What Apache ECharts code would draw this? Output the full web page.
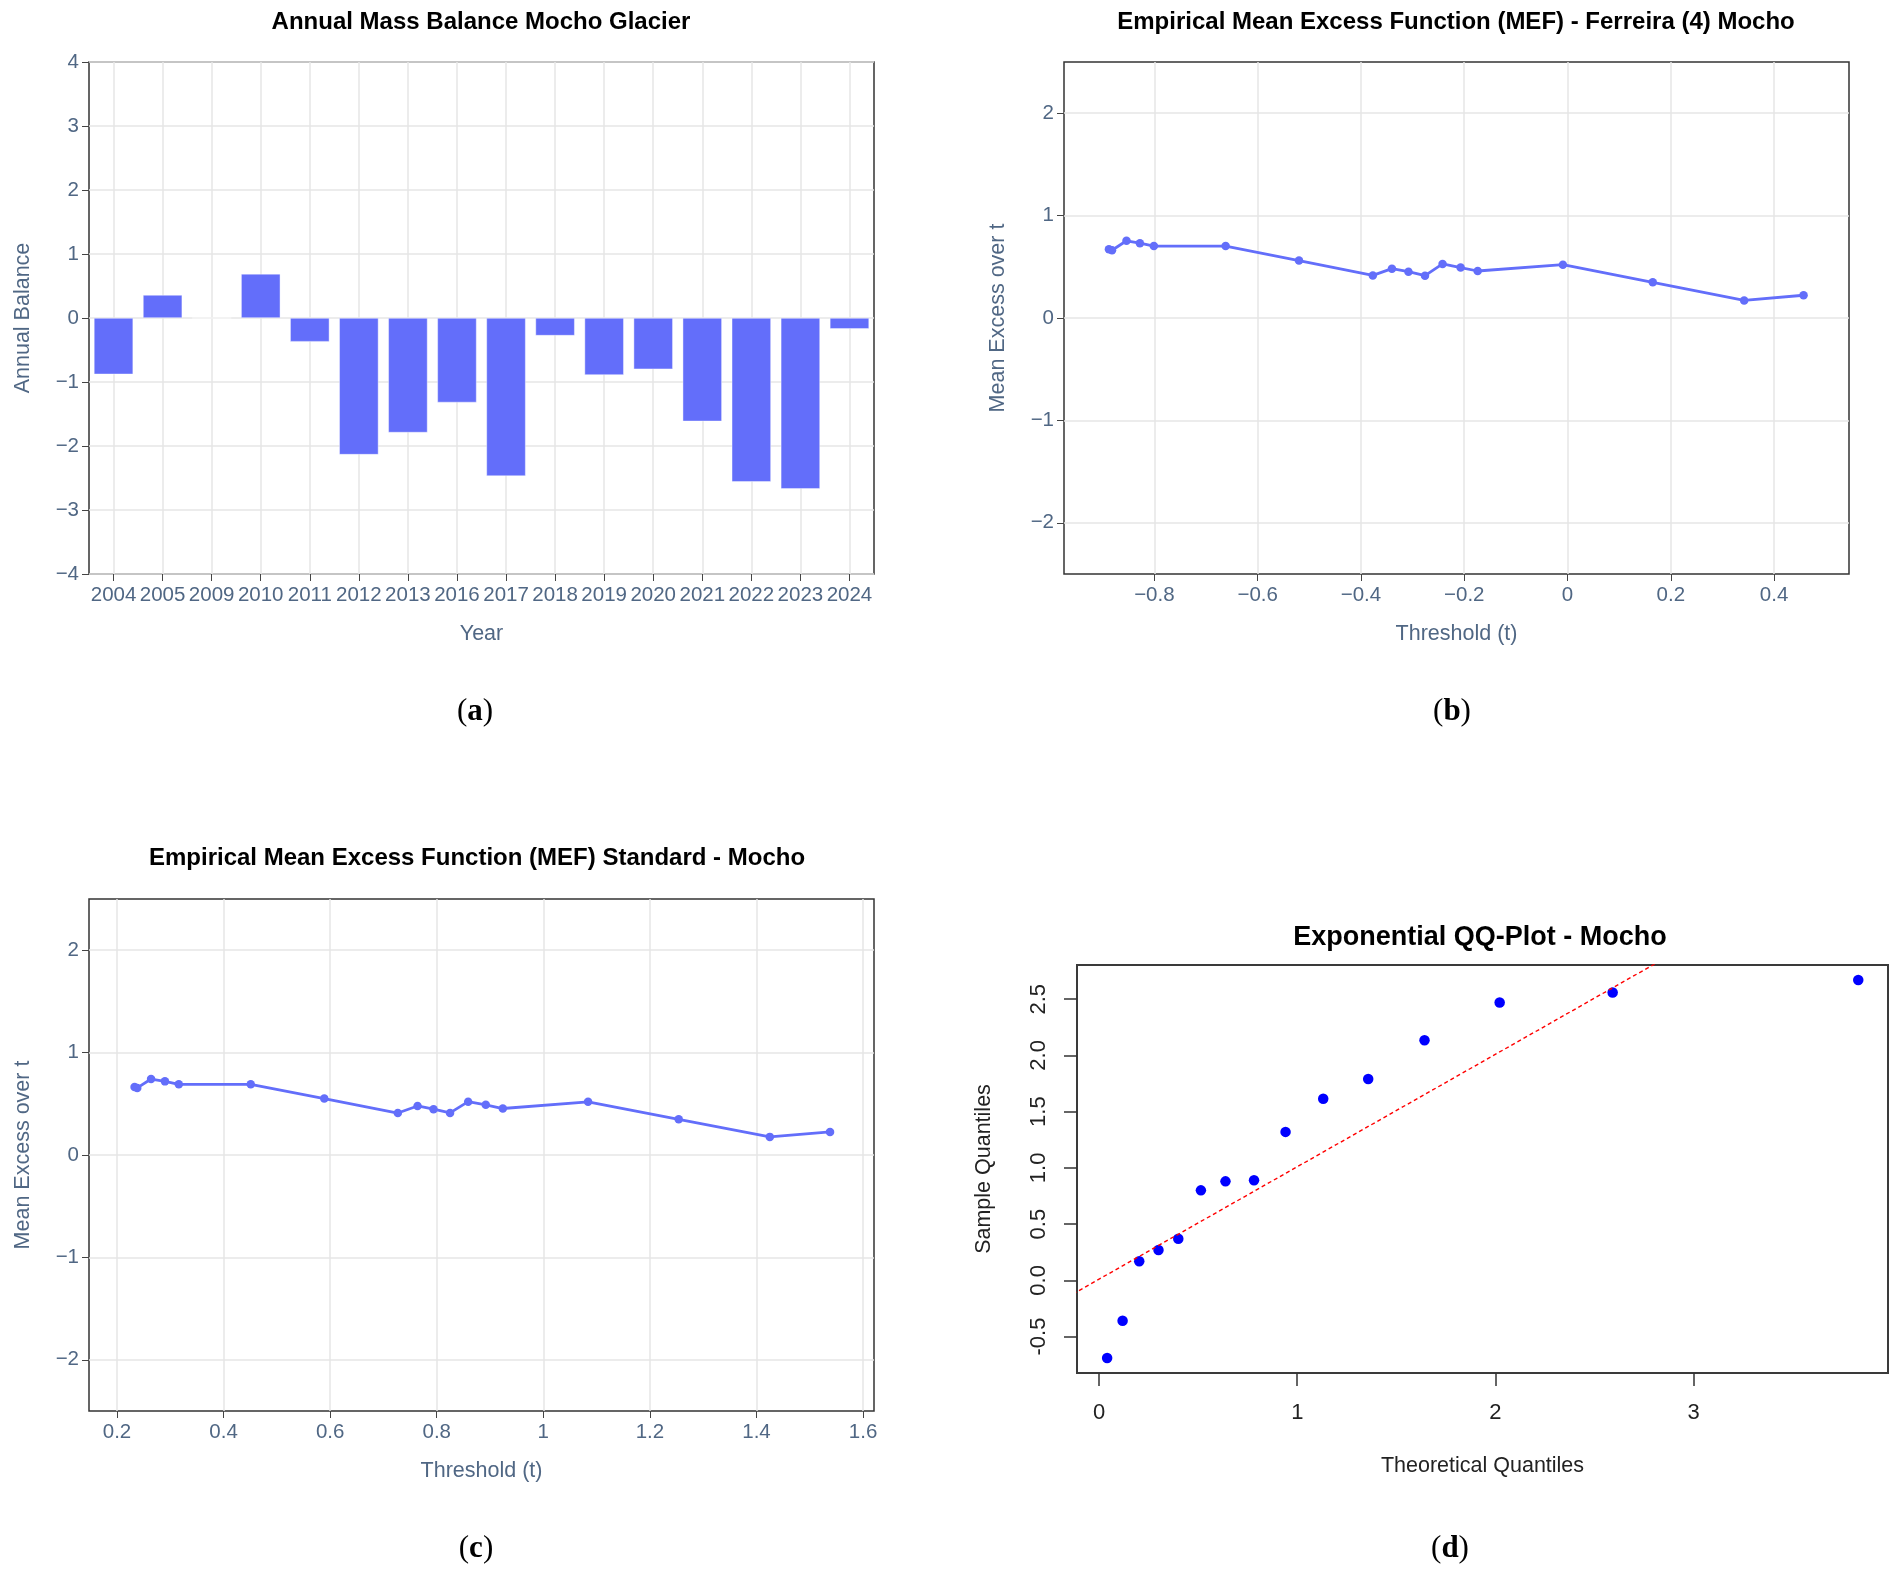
<!DOCTYPE html>
<html>
<head>
<meta charset="utf-8">
<title>Mocho glacier</title>
<script src="https://cdn.jsdelivr.net/npm/echarts@6/dist/echarts.min.js"></script>
<style>
  html, body { margin: 0; padding: 0; background: #fff; }
  #main { width: 1900px; height: 1578px; }
</style>
</head>
<body>
<div id="main"></div>
<script>
// (a) annual balance per year
const years = ['2004', '2005', '2009', '2010', '2011', '2012', '2013', '2016',
               '2017', '2018', '2019', '2020', '2021', '2022', '2023', '2024'];
const balance = [-0.88, 0.36, 0, 0.69, -0.37, -2.135, -1.79, -1.32,
                 -2.47, -0.275, -0.89, -0.80, -1.615, -2.56, -2.67, -0.17];

// (b) MEF Ferreira (4)
const ferreiraT = [-0.888, -0.882, -0.854, -0.828, -0.801, -0.662, -0.520, -0.377, -0.340,
                   -0.308, -0.276, -0.242, -0.207, -0.174, -0.009, 0.165, 0.342, 0.457];
const ferreiraMe = [0.672, 0.662, 0.754, 0.731, 0.702, 0.702, 0.561, 0.416, 0.482,
                    0.452, 0.413, 0.528, 0.492, 0.459, 0.521, 0.348, 0.172, 0.222];

// (c) MEF standard
const standardT = [0.233, 0.238, 0.264, 0.290, 0.316, 0.451, 0.589, 0.727, 0.764,
                   0.794, 0.825, 0.859, 0.892, 0.924, 1.084, 1.254, 1.425, 1.538];
const standardMe = [0.665, 0.655, 0.742, 0.719, 0.690, 0.690, 0.551, 0.410, 0.479,
                    0.447, 0.411, 0.521, 0.490, 0.454, 0.519, 0.348, 0.177, 0.225];

// (d) exponential QQ plot
const qqTheo = [0.041, 0.119, 0.203, 0.300, 0.400, 0.514, 0.638, 0.782,
                0.941, 1.131, 1.358, 1.642, 2.021, 2.591, 3.830];
const qqSample = [-0.69, -0.36, 0.17, 0.27, 0.37, 0.80, 0.88, 0.89,
                  1.32, 1.615, 1.79, 2.135, 2.47, 2.56, 2.67];
const qqLineX = [-0.5, 4.2];
const qqLineY = [-0.49, 4.21];

// tick labels
const balanceTicks = [-4, -3, -2, -1, 0, 1, 2, 3, 4];
const meTicks = [-2, -1, 0, 1, 2];
const ferreiraTicks = [-0.8, -0.6, -0.4, -0.2, 0, 0.2, 0.4];
const standardTicks = [0.2, 0.4, 0.6, 0.8, 1, 1.2, 1.4, 1.6];
const qqXTicks = [0, 1, 2, 3];
const qqYTicks = [-0.5, 0, 0.5, 1, 1.5, 2, 2.5];

const FONT = "'Liberation Sans', Arial, sans-serif";
const SLATE = '#506784';
const GRIDC = '#e6e6e6';
const BLUE = '#636efa';

const minus = v => String(+(+v).toFixed(3)).replace('-', '\u2212');
const zip = (a, b) => a.map((v, i) => [v, b[i]]);

function plotlyX(gi, min, max, split, ticks, name) {
    return {
        type: 'value', gridIndex: gi, min: min, max: max, splitNumber: split,
        axisLine: { show: false, onZero: false },
        axisTick: { show: true, customValues: ticks, length: 7, lineStyle: { color: '#444' } },
        axisLabel: { customValues: ticks, formatter: minus, color: SLATE, fontSize: 20.5, fontFamily: FONT, margin: 11 },
        splitLine: { show: true, lineStyle: { color: GRIDC, width: 1.5 } },
        name: name, nameLocation: 'middle', nameGap: 49,
        nameTextStyle: { color: SLATE, fontSize: 21.5, fontFamily: FONT }
    };
}
function plotlyY(gi, min, max, split, ticks, name) {
    return {
        type: 'value', gridIndex: gi, min: min, max: max, splitNumber: split,
        axisLine: { show: false, onZero: false },
        axisTick: { show: true, customValues: ticks, length: 7, lineStyle: { color: '#444' } },
        axisLabel: { customValues: ticks, formatter: minus, color: SLATE, fontSize: 20.5, fontFamily: FONT, margin: 10 },
        splitLine: { show: true, lineStyle: { color: GRIDC, width: 1.5 } },
        name: name, nameLocation: 'middle', nameGap: 55, nameRotate: 90,
        nameTextStyle: { color: SLATE, fontSize: 21.5, fontFamily: FONT }
    };
}
function lineSeries(xi, xs, ys) {
    return {
        type: 'line', xAxisIndex: xi, yAxisIndex: xi, data: zip(xs, ys),
        symbol: 'circle', symbolSize: 8.5, showSymbol: true,
        itemStyle: { color: BLUE }, lineStyle: { color: BLUE, width: 2.8 },
        animation: false
    };
}
function txt(x, y, text, font, fill) {
    return {
        type: 'text', x: x, y: y,
        style: { text: text, font: font, fill: fill || '#000',
                 align: 'center', verticalAlign: 'middle', textAlign: 'center', textVerticalAlign: 'middle' }
    };
}
function caption(x, y, letter) {
    return {
        type: 'text', x: x, y: y,
        style: {
            text: '{n|(}{b|' + letter + '}{n|)}',
            align: 'center', verticalAlign: 'middle', textAlign: 'center', textVerticalAlign: 'middle',
            rich: {
                n: { font: "31px 'Liberation Serif', serif", fill: '#000' },
                b: { font: "bold 31px 'Liberation Serif', serif", fill: '#000' }
            }
        }
    };
}

const chart = echarts.init(document.getElementById('main'), null, { renderer: 'canvas' });

const frame = { show: true, borderColor: '#333', borderWidth: 1.5, backgroundColor: 'transparent' };

const option = {
    backgroundColor: '#fff',
    animation: false,
    grid: [
        Object.assign({ left: 89, top: 62, width: 785, height: 512 }, frame),
        Object.assign({ left: 1064, top: 62, width: 785, height: 512 }, frame),
        Object.assign({ left: 89, top: 899, width: 785, height: 512 }, frame),
        { left: 1077, top: 965, width: 811, height: 408, show: true, borderColor: '#3a3a3a', borderWidth: 2, backgroundColor: 'transparent' }
    ],
    xAxis: [
        {
            type: 'category', gridIndex: 0, data: years,
            axisLine: { show: false, onZero: false },
            axisTick: { show: true, alignWithLabel: true, length: 7, lineStyle: { color: '#444' } },
            axisLabel: { interval: 0, color: SLATE, fontSize: 20.5, fontFamily: FONT, margin: 11 },
            splitLine: { show: true, alignWithLabel: true, interval: 0, lineStyle: { color: GRIDC, width: 1.5 } },
            name: 'Year', nameLocation: 'middle', nameGap: 49,
            nameTextStyle: { color: SLATE, fontSize: 21.5, fontFamily: FONT }
        },
        plotlyX(1, -0.975, 0.545, 7, ferreiraTicks, 'Threshold (t)'),
        plotlyX(2, 0.1475, 1.6205, 7, standardTicks, 'Threshold (t)'),
        {
            type: 'value', gridIndex: 3, min: -0.111, max: 3.98, splitNumber: 4,
            axisLine: { show: false, onZero: false },
            axisTick: { show: true, customValues: qqXTicks, length: 13, lineStyle: { color: '#333', width: 1.5 } },
            axisLabel: { customValues: qqXTicks, color: '#222', fontSize: 22, fontFamily: FONT, margin: 29 },
            splitLine: { show: false },
            name: 'Theoretical Quantiles', nameLocation: 'middle', nameGap: 82,
            nameTextStyle: { color: '#222', fontSize: 21.5, fontFamily: FONT }
        }
    ],
    yAxis: [
        plotlyY(0, -4, 4, 8, balanceTicks, 'Annual Balance'),
        plotlyY(1, -2.5, 2.5, 5, meTicks, 'Mean Excess over t'),
        plotlyY(2, -2.5, 2.5, 5, meTicks, 'Mean Excess over t'),
        {
            type: 'value', gridIndex: 3, min: -0.824, max: 2.804, splitNumber: 7,
            axisLine: { show: false, onZero: false },
            axisTick: { show: true, customValues: qqYTicks, length: 13, lineStyle: { color: '#333', width: 1.5 } },
            axisLabel: { customValues: qqYTicks, rotate: 90, formatter: v => (+v).toFixed(1),
                         color: '#222', fontSize: 22, fontFamily: FONT, margin: 27 },
            splitLine: { show: false },
            name: 'Sample Quantiles', nameLocation: 'middle', nameGap: 82, nameRotate: 90,
            nameTextStyle: { color: '#222', fontSize: 21.5, fontFamily: FONT }
        }
    ],
    series: [
        {
            type: 'bar', xAxisIndex: 0, yAxisIndex: 0, data: balance, barWidth: '80%',
            itemStyle: { color: BLUE, borderColor: 'rgba(255,255,255,0.7)', borderWidth: 0.6 }
        },
        lineSeries(1, ferreiraT, ferreiraMe),
        lineSeries(2, standardT, standardMe),
        {
            type: 'line', xAxisIndex: 3, yAxisIndex: 3, data: zip(qqLineX, qqLineY),
            showSymbol: false, clip: true, silent: true,
            lineStyle: { color: '#ff0000', width: 1.4, type: [4, 3] }
        },
        {
            type: 'scatter', xAxisIndex: 3, yAxisIndex: 3, data: zip(qqTheo, qqSample),
            symbol: 'circle', symbolSize: 10.5, itemStyle: { color: '#0000ff', opacity: 1 }
        }
    ],
    graphic: [
        txt(481, 22, 'Annual Mass Balance Mocho Glacier', 'bold 24px ' + FONT),
        txt(1456, 22, 'Empirical Mean Excess Function (MEF) - Ferreira (4) Mocho', 'bold 24px ' + FONT),
        txt(477, 858, 'Empirical Mean Excess Function (MEF) Standard - Mocho', 'bold 24px ' + FONT),
        txt(1480, 938, 'Exponential QQ-Plot - Mocho', 'bold 27px ' + FONT),
        caption(475, 712, 'a'),
        caption(1452, 712, 'b'),
        caption(476, 1549, 'c'),
        caption(1450, 1549, 'd')
    ]
};

chart.setOption(option);
</script>
</body>
</html>
